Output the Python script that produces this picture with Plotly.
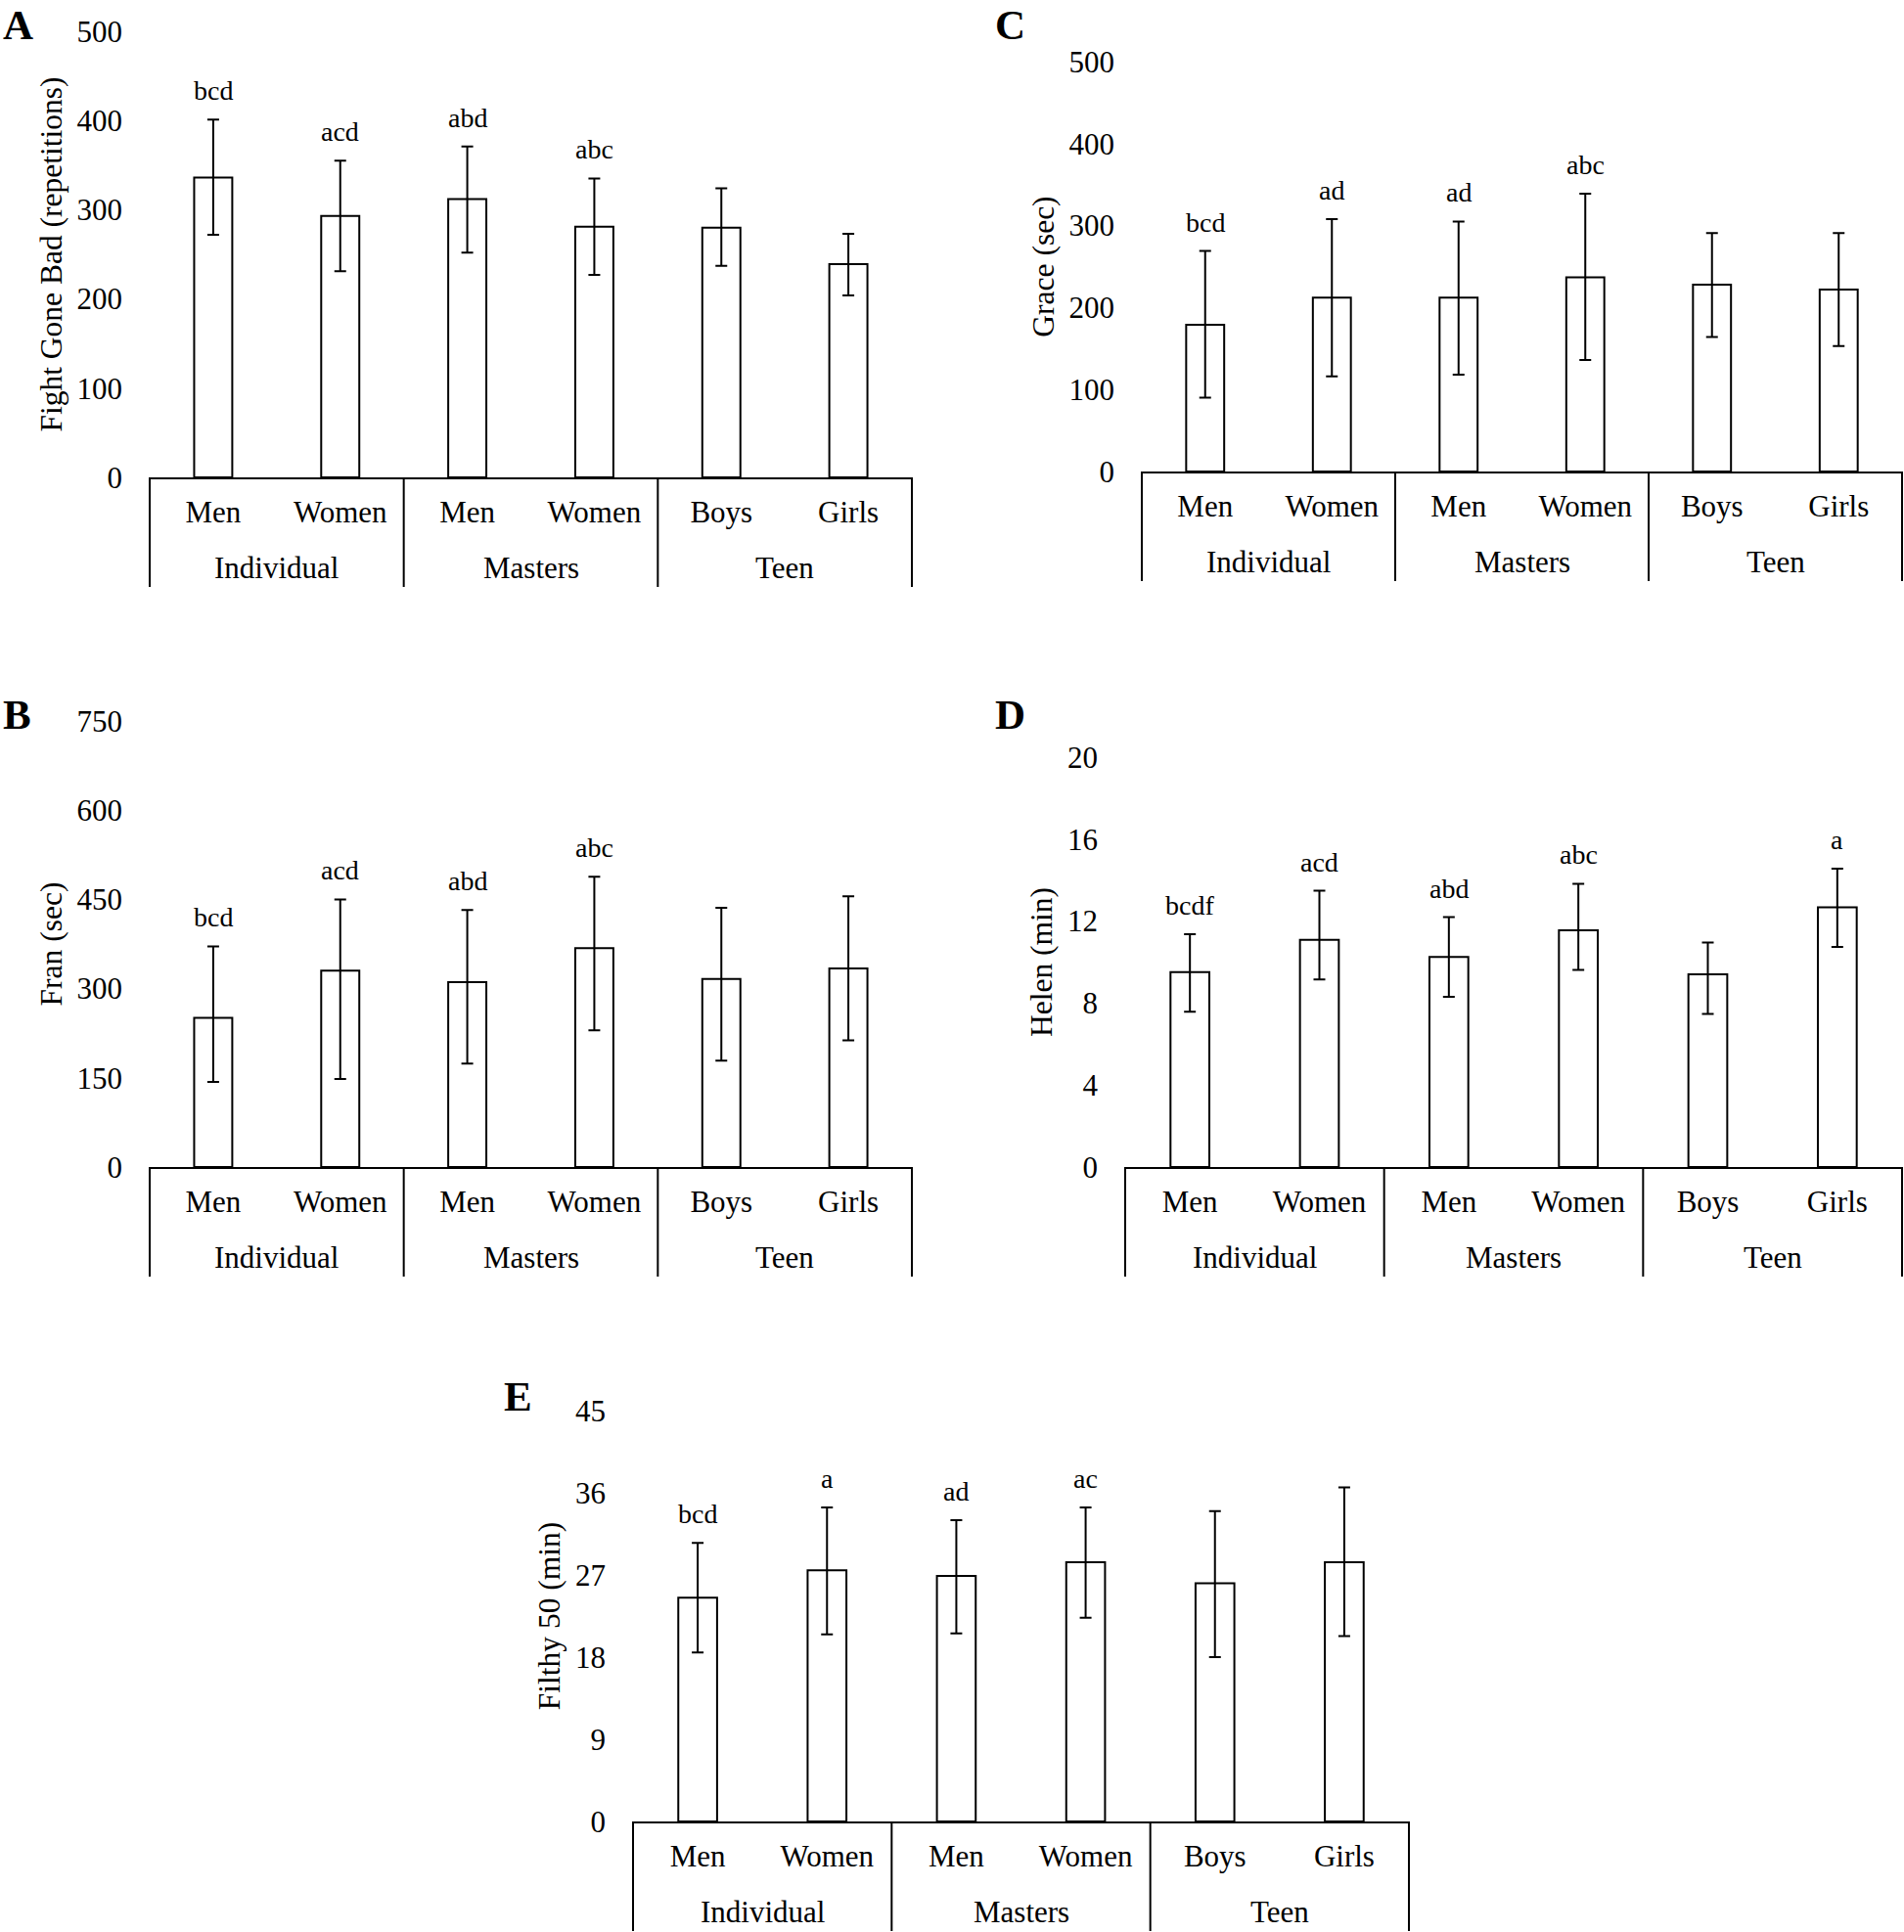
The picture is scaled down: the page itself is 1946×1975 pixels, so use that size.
import plotly.graph_objects as go

W, H = 1946, 1975
FONT = "Liberation Serif"

groups = ["Individual", "Individual", "Masters", "Masters", "Teen", "Teen"]
subgroups = ["Men", "Women", "Men", "Women", "Boys", "Girls"]
group_names = ["Individual", "Masters", "Teen"]

# A: Fight Gone Bad (repetitions)
fgb_mean = [336, 293, 312, 281, 280, 239]
fgb_up = [65, 62, 59, 54, 44, 34]
fgb_down = [64, 62, 60, 54, 43, 35]
fgb_sig = ["bcd", "acd", "abd", "abc", "", ""]

# B: Fran (sec)
fran_mean = [251, 330, 311, 368, 316, 334]
fran_up = [120, 120, 121, 120, 120, 121]
fran_down = [108, 182, 137, 138, 137, 121]
fran_sig = ["bcd", "acd", "abd", "abc", "", ""]

# C: Grace (sec)
grace_mean = [179, 212, 212, 237, 228, 222]
grace_up = [90, 96, 93, 102, 63, 69]
grace_down = [89, 96, 94, 101, 64, 69]
grace_sig = ["bcd", "ad", "ad", "abc", "", ""]

# D: Helen (min)
helen_mean = [9.51, 11.08, 10.25, 11.55, 9.40, 12.67]
helen_up = [1.85, 2.40, 1.94, 2.27, 1.56, 1.89]
helen_down = [1.93, 1.93, 1.95, 1.93, 1.93, 1.93]
helen_sig = ["bcdf", "acd", "abd", "abc", "", "a"]

# E: Filthy 50 (min)
filthy_mean = [24.5, 27.5, 26.9, 28.4, 26.1, 28.4]
filthy_up = [6.0, 6.9, 6.1, 6.0, 7.9, 8.2]
filthy_down = [6.0, 7.0, 6.3, 6.1, 8.1, 8.1]
filthy_sig = ["bcd", "a", "ad", "ac", "", ""]

cat_keys = [g + " " + s for g, s in zip(groups, subgroups)]


def px_x(a, b):
    return [a / W, b / W]


def px_y(top, bottom):
    return [1 - bottom / H, 1 - top / H]


panels = [
    dict(letter="A", mean=fgb_mean, up=fgb_up, down=fgb_down, sig=fgb_sig,
         title="Fight Gone Bad (repetitions)", rng=[0, 500], dtick=100,
         xd=px_x(153, 932), yd=px_y(32, 488), lpos=(18, 0, "top")),
    dict(letter="C", mean=grace_mean, up=grace_up, down=grace_down, sig=grace_sig,
         title="Grace (sec)", rng=[0, 500], dtick=100,
         xd=px_x(1167, 1944), yd=px_y(63, 482), lpos=(1032, 0, "top")),
    dict(letter="B", mean=fran_mean, up=fran_up, down=fran_down, sig=fran_sig,
         title="Fran (sec)", rng=[0, 750], dtick=150,
         xd=px_x(153, 932), yd=px_y(737, 1193), lpos=(17, 731, "middle")),
    dict(letter="D", mean=helen_mean, up=helen_up, down=helen_down, sig=helen_sig,
         title="Helen (min)", rng=[0, 20], dtick=4,
         xd=px_x(1150, 1944), yd=px_y(774, 1193), lpos=(1032, 731, "middle")),
    dict(letter="E", mean=filthy_mean, up=filthy_up, down=filthy_down, sig=filthy_sig,
         title="Filthy 50 (min)", rng=[0, 45], dtick=9,
         xd=px_x(647, 1440), yd=px_y(1442, 1862), lpos=(529, 1427, "middle")),
]

fig = go.Figure()
annotations = []
shapes = []
layout = dict(
    width=W, height=H, margin=dict(l=0, r=0, t=0, b=0, autoexpand=False),
    paper_bgcolor="white", plot_bgcolor="white", showlegend=False,
    font=dict(family=FONT, color="black", size=31),
)

for i, p in enumerate(panels):
    n = "" if i == 0 else str(i + 1)
    xa, ya = "x" + n, "y" + n
    fig.add_trace(go.Bar(
        x=cat_keys, y=p["mean"], xaxis=xa, yaxis=ya,
        width=0.3, marker=dict(color="white", line=dict(color="black", width=2)),
        error_y=dict(type="data", symmetric=False, array=p["up"], arrayminus=p["down"],
                     color="black", thickness=2, width=6),
    ))
    layout["xaxis" + n] = dict(
        type="category", domain=p["xd"], anchor=ya, range=[-0.5, 5.5],
        categoryorder="array", categoryarray=cat_keys,
        tickvals=cat_keys, ticktext=subgroups,
        showline=True, linecolor="black", linewidth=2, ticks="",
        ticklabelstandoff=7, automargin=False,
        tickfont=dict(family=FONT, size=31, color="black"),
        showgrid=False, zeroline=False, fixedrange=True,
    )
    layout["yaxis" + n] = dict(
        domain=p["yd"], anchor=xa, range=p["rng"], dtick=p["dtick"], tick0=0,
        showline=False, showgrid=False, zeroline=False, ticks="",
        ticklabelstandoff=27, automargin=False,
        tickfont=dict(family=FONT, size=31, color="black"),
        title=dict(text=p["title"], standoff=5,
                   font=dict(family=FONT, size=31.5, color="black")),
        fixedrange=True,
    )
    # group dividers below the axis line (paper y so they are not clipped)
    y_axis = p["yd"][0]
    for b in [0, 1 / 3, 2 / 3, 1]:
        shapes.append(dict(
            type="line", xref=xa + " domain", yref="paper",
            x0=b, x1=b, y0=y_axis, y1=y_axis - 112 / H,
            line=dict(color="black", width=2),
        ))
    # group labels
    for g, gname in enumerate(group_names):
        annotations.append(dict(
            xref=xa, yref=ya, x=2 * g + 0.5, y=0, yshift=-92,
            text=gname, showarrow=False, xanchor="center", yanchor="middle",
            font=dict(family=FONT, size=31, color="black"),
        ))
    for k, s in enumerate(p["sig"]):
        if s:
            annotations.append(dict(
                xref=xa, yref=ya, x=k, y=p["mean"][k] + p["up"][k],
                text=s, showarrow=False, xanchor="center", yanchor="bottom", yshift=12,
                font=dict(family=FONT, size=28, color="black"),
            ))
    annotations.append(dict(
        xref="paper", yref="paper", x=p["lpos"][0] / W, y=1 - p["lpos"][1] / H,
        text="<b>%s</b>" % p["letter"], showarrow=False, xanchor="center",
        yanchor=p["lpos"][2],
        font=dict(family=FONT, size=43, color="black"),
    ))

layout["annotations"] = annotations
layout["shapes"] = shapes
fig.update_layout(**layout)
fig.write_html("out.html", config={"displayModeBar": False},
               post_script="document.body.style.margin='0';")
